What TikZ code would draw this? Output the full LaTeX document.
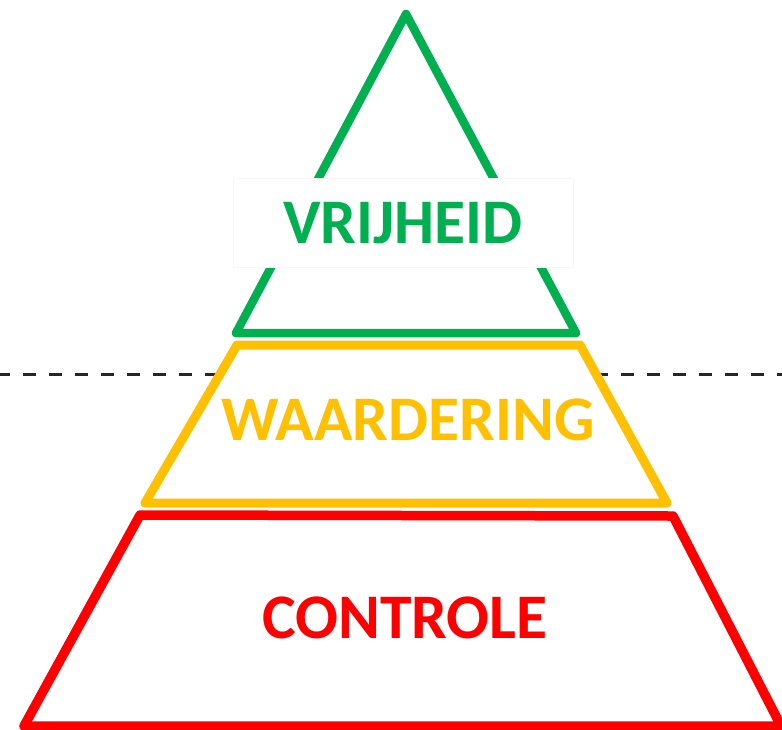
\documentclass[tikz,border=0pt]{standalone}
\usepackage{fontspec}
\newfontfamily\carl{Carlito}
\definecolor{pgreen}{HTML}{00B050}
\definecolor{pyellow}{HTML}{FFC000}
\definecolor{pred}{HTML}{FF0000}
\begin{document}
\begin{tikzpicture}[x=1pt,y=-1pt,
  level/.style={line join=round, fill=white},
  label/.style={font=\carl\bfseries\fontsize{63.5}{70}\selectfont, anchor=base, inner sep=0pt}]
\useasboundingbox (0,0) rectangle (782,729);
\fill[white] (0,0) rectangle (782,729);
% dashed line
\draw[black!85, line width=3pt, dash pattern=on 13pt off 13pt] (-3,374) -- (790,374);
% green triangle
\draw[level, draw=pgreen, line width=8.5pt] (406,14) -- (576,333) -- (236,333) -- cycle;
% white box behind the label
\fill[white] (233,178) rectangle (573,267);
\draw[black!3, line width=0.5pt] (233,178) rectangle (573,267);
\node[label, text=pgreen] (vrij) at (403,243) {VRIJHEID};
% yellow trapezoid
\draw[level, draw=pyellow, line width=9pt] (237,345) -- (580,345) -- (667,503) -- (145,503) -- cycle;
\node[label, text=pyellow] (waard) at (408,440) {WAARDERING};
% red trapezoid
\draw[level, draw=pred, line width=9.5pt] (140,515) -- (673,516) -- (781,726) -- (24,726) -- cycle;
\node[label, text=pred] (contr) at (405,638) {CONTROLE};
\end{tikzpicture}
\end{document}
